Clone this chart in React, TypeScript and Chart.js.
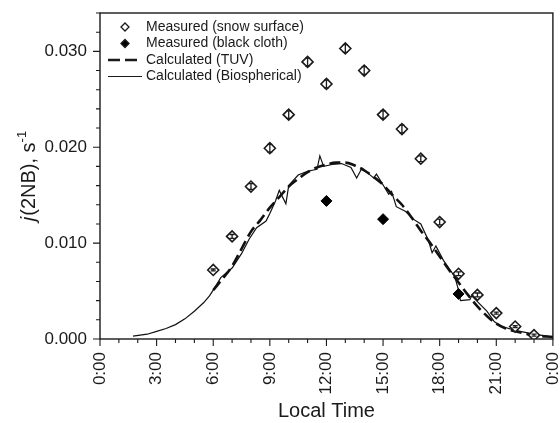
import React, { useEffect, useRef } from "react";
import { Chart, registerables } from "chart.js";

Chart.register(...registerables);

// ---- Data ----
const snowHours = [6, 7, 8, 9, 10, 11, 12, 13, 14, 15, 16, 17, 18, 19, 20, 21, 22, 23];
const snowValues = [0.0072, 0.0107, 0.0159, 0.0199, 0.0234, 0.0289, 0.0266, 0.0303, 0.028, 0.0234, 0.0219, 0.0188, 0.0122, 0.0068, 0.0046, 0.0027, 0.0013, 0.0004];
const snowErrors = [0.0001, 0.0002, 0.0003, 0.0004, 0.0004, 0.0004, 0.0004, 0.0004, 0.0004, 0.0004, 0.0004, 0.0003, 0.0003, 0.0002, 0.0002, 0.0001, 0.0001, 0.0001];

const clothHours = [12, 15, 19];
const clothValues = [0.0144, 0.0125, 0.0047];

const tuvHours = [6, 6.5, 7, 7.5, 8, 8.5, 9, 9.5, 10, 10.5, 11, 11.5, 12, 12.5, 13, 13.5, 14, 14.5, 15, 15.5, 16, 16.5, 17, 17.5, 18, 18.5, 19, 19.5, 20, 20.5, 21, 21.5, 22, 23, 24];
const tuvValues = [0.0051, 0.0063, 0.0076, 0.0094, 0.0112, 0.0124, 0.0137, 0.0148, 0.0159, 0.0167, 0.0174, 0.0179, 0.0182, 0.0184, 0.0184, 0.0181, 0.0176, 0.0169, 0.0161, 0.015, 0.014, 0.0127, 0.0113, 0.01, 0.0086, 0.0072, 0.0059, 0.0046, 0.0034, 0.0024, 0.0016, 0.0011, 0.0008, 0.0004, 0.0002];

const bioHours = [1.75, 2.5, 3, 3.5, 4, 4.5, 5, 5.5, 5.8, 6, 6.4, 7, 7.5, 7.9, 8.3, 8.8, 9, 9.3, 9.5, 9.85, 10, 10.5, 11, 11.5, 11.65, 11.85, 12.3, 12.8, 13.3, 13.6, 13.85, 14.2, 14.5, 14.65, 14.9, 15.3, 15.45, 15.7, 16.2, 16.6, 17, 17.4, 17.6, 17.8, 18.2, 18.8, 19, 19.1, 19.6, 19.7, 20, 20.5, 20.9, 21.3, 22, 23, 24];
const bioValues = [0.0003, 0.0005, 0.0008, 0.0011, 0.0015, 0.0021, 0.0029, 0.0038, 0.0045, 0.0051, 0.0064, 0.0074, 0.0089, 0.0104, 0.0116, 0.0123, 0.0131, 0.0144, 0.0155, 0.0141, 0.016, 0.0171, 0.0175, 0.0177, 0.0191, 0.018, 0.0182, 0.0183, 0.0179, 0.0168, 0.0177, 0.0173, 0.0168, 0.0172, 0.0164, 0.0151, 0.0154, 0.0138, 0.0133, 0.0125, 0.012, 0.0103, 0.009, 0.0097, 0.0082, 0.0065, 0.0051, 0.004, 0.0041, 0.0045, 0.0039, 0.0029, 0.0018, 0.0013, 0.0009, 0.0005, 0.0002];

const legendLabels = [
  "Measured (snow surface)",
  "Measured (black cloth)",
  "Calculated (TUV)",
  "Calculated (Biospherical)",
];

const FONT = "'Liberation Sans', Arial, Helvetica, sans-serif";
const INK = "#1a1a1a";

const zip = (xs: number[], ys: number[]) => xs.map((x, i) => ({ x, y: ys[i] }));

const decorPlugin = {
  id: "decor",
  afterDatasetsDraw(chart: any) {
    const ctx = chart.ctx;
    const xs = chart.scales.x;
    const ys = chart.scales.y;
    ctx.save();
    ctx.strokeStyle = INK;
    ctx.lineWidth = 1.3;
    snowHours.forEach((h, i) => {
      const px = xs.getPixelForValue(h);
      const y1 = ys.getPixelForValue(snowValues[i] - snowErrors[i]);
      const y2 = ys.getPixelForValue(snowValues[i] + snowErrors[i]);
      ctx.beginPath();
      ctx.moveTo(px, y1);
      ctx.lineTo(px, y2);
      ctx.moveTo(px - 2.5, y1);
      ctx.lineTo(px + 2.5, y1);
      ctx.moveTo(px - 2.5, y2);
      ctx.lineTo(px + 2.5, y2);
      ctx.stroke();
    });
    ctx.restore();
  },
  afterDraw(chart: any) {
    const ctx = chart.ctx;
    const a = chart.chartArea;
    const xs = chart.scales.x;
    const ys = chart.scales.y;
    ctx.save();
    // frame
    ctx.strokeStyle = INK;
    ctx.lineWidth = 1.4;
    ctx.strokeRect(a.left, a.top, a.right - a.left, a.bottom - a.top);
    // ticks
    ctx.lineWidth = 1.1;
    ctx.beginPath();
    xs.ticks.forEach((t: any) => {
      const px = xs.getPixelForValue(t.value);
      const major = Math.abs(t.value % 3) < 1e-6;
      ctx.moveTo(px, a.bottom);
      ctx.lineTo(px, a.bottom + (major ? 7 : 4));
    });
    ys.ticks.forEach((t: any) => {
      const py = ys.getPixelForValue(t.value);
      const r = t.value * 100;
      const major = Math.abs(r - Math.round(r)) < 1e-6;
      ctx.moveTo(a.left, py);
      ctx.lineTo(a.left - (major ? 7 : 4), py);
    });
    ctx.stroke();

    // x title
    ctx.fillStyle = INK;
    ctx.font = `20px ${FONT}`;
    ctx.textAlign = "center";
    ctx.textBaseline = "middle";
    ctx.fillText("Local Time", (a.left + a.right) / 2, 411);

    // y title (rotated)
    ctx.save();
    ctx.translate(28, (a.top + a.bottom) / 2);
    ctx.rotate(-Math.PI / 2);
    const p1 = "j";
    const p2 = "(2NB), s";
    const p3 = "-1";
    ctx.font = `italic 20px ${FONT}`;
    const w1 = ctx.measureText(p1).width;
    ctx.font = `20px ${FONT}`;
    const w2 = ctx.measureText(p2).width;
    ctx.font = `13px ${FONT}`;
    const w3 = ctx.measureText(p3).width;
    let x0 = -(w1 + 1 + w2 + w3) / 2;
    ctx.textAlign = "left";
    ctx.textBaseline = "alphabetic";
    ctx.font = `italic 20px ${FONT}`;
    ctx.fillText(p1, x0, 7);
    x0 += w1 + 1;
    ctx.font = `20px ${FONT}`;
    ctx.fillText(p2, x0, 7);
    x0 += w2;
    ctx.font = `13px ${FONT}`;
    ctx.fillText(p3, x0, -2);
    ctx.restore();

    // legend
    const rows = [27, 43.5, 60, 76.5];
    const mx = 125;
    ctx.font = `14px ${FONT}`;
    ctx.textAlign = "left";
    ctx.textBaseline = "middle";
    legendLabels.forEach((lab, i) => {
      const y = rows[i];
      ctx.fillStyle = INK;
      ctx.fillText(lab, 146, y);
      ctx.strokeStyle = INK;
      if (i === 0 || i === 1) {
        const r = 4;
        ctx.beginPath();
        ctx.moveTo(mx - r, y);
        ctx.lineTo(mx, y - r);
        ctx.lineTo(mx + r, y);
        ctx.lineTo(mx, y + r);
        ctx.closePath();
        ctx.lineWidth = 1.3;
        ctx.fillStyle = i === 1 ? "#000" : "#fff";
        ctx.fill();
        ctx.stroke();
      } else if (i === 2) {
        ctx.lineWidth = 2.6;
        ctx.setLineDash([12, 5]);
        ctx.beginPath();
        ctx.moveTo(108, y);
        ctx.lineTo(142, y);
        ctx.stroke();
        ctx.setLineDash([]);
      } else {
        ctx.lineWidth = 1.2;
        ctx.beginPath();
        ctx.moveTo(108, y);
        ctx.lineTo(142, y);
        ctx.stroke();
      }
    });
    ctx.restore();
  },
};

export default function App() {
  const ref = useRef<HTMLCanvasElement | null>(null);
  useEffect(() => {
    if (!ref.current) return;
    const chart = new Chart(ref.current, {
      type: "line",
      data: {
        datasets: [
          {
            label: legendLabels[0],
            data: zip(snowHours, snowValues),
            showLine: false,
            pointStyle: "rectRot",
            pointRadius: 5.5,
            pointBorderWidth: 1.6,
            pointBorderColor: INK,
            pointBackgroundColor: "#fff",
            borderColor: INK,
            backgroundColor: "#fff",
          },
          {
            label: legendLabels[1],
            data: zip(clothHours, clothValues),
            showLine: false,
            pointStyle: "rectRot",
            pointRadius: 5.5,
            pointBorderWidth: 1,
            pointBorderColor: "#000",
            pointBackgroundColor: "#000",
            borderColor: "#000",
            backgroundColor: "#000",
          },
          {
            label: legendLabels[2],
            data: zip(tuvHours, tuvValues),
            borderColor: "#111",
            borderWidth: 2.6,
            borderDash: [11, 5],
            pointRadius: 0,
            cubicInterpolationMode: "monotone",
            fill: false,
          },
          {
            label: legendLabels[3],
            data: zip(bioHours, bioValues),
            borderColor: "#111",
            borderWidth: 1.2,
            pointRadius: 0,
            tension: 0,
            fill: false,
          },
        ],
      },
      options: {
        animation: false,
        responsive: false,
        devicePixelRatio: 1,
        layout: { padding: { top: 13, right: 6, left: 0, bottom: 0 } },
        plugins: { legend: { display: false }, tooltip: { enabled: false } },
        scales: {
          x: {
            type: "linear",
            min: 0,
            max: 24,
            ticks: {
              stepSize: 1,
              autoSkip: false,
              maxRotation: 90,
              minRotation: 90,
              padding: 6,
              color: INK,
              font: { family: FONT, size: 17 },
              callback: (v: any) => (Math.abs(v % 3) < 1e-6 ? `${v % 24}:00` : ""),
            },
            grid: { display: true, drawOnChartArea: false, drawTicks: true, tickLength: 7, tickColor: "rgba(0,0,0,0)" },
            border: { display: false },
            afterFit: (s: any) => {
              s.height = 84;
              s.paddingLeft = 0;
              s.paddingRight = 0;
            },
          },
          y: {
            type: "linear",
            min: 0,
            max: 0.034,
            ticks: {
              stepSize: 0.002,
              autoSkip: false,
              padding: 6,
              color: INK,
              font: { family: FONT, size: 17 },
              callback: (v: any) => {
                const r = v * 100;
                return Math.abs(r - Math.round(r)) < 1e-6 ? Number(v).toFixed(3) : "";
              },
            },
            grid: { display: true, drawOnChartArea: false, drawTicks: true, tickLength: 7, tickColor: "rgba(0,0,0,0)" },
            border: { display: false },
            afterFit: (s: any) => {
              s.width = 100;
              s.paddingTop = 0;
              s.paddingBottom = 0;
            },
          },
        },
      },
      plugins: [decorPlugin],
    } as any);
    return () => chart.destroy();
  }, []);
  return (
    <div style={{ position: "fixed", left: 0, top: 0, width: 560, height: 423, background: "#fff" }}>
      <canvas ref={ref} width={560} height={423} style={{ width: 560, height: 423, display: "block" }} />
    </div>
  );
}
